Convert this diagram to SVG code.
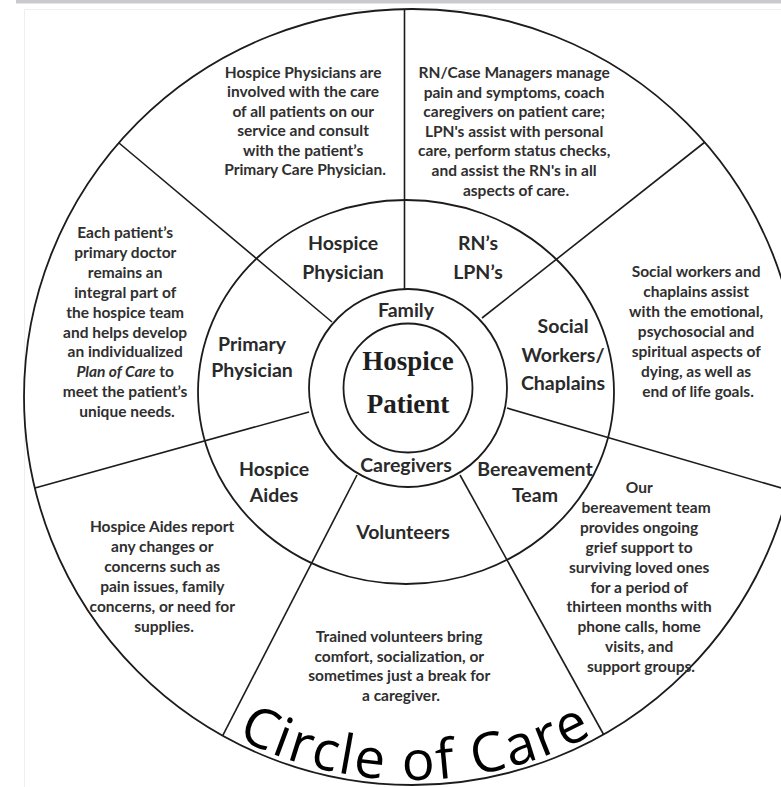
<svg xmlns="http://www.w3.org/2000/svg" width="781" height="787" viewBox="0 0 781 787">
  <style>
    .ring { fill: none; stroke: #1c1c1c; stroke-width: 1.8; }
    .spoke { stroke: #1c1c1c; stroke-width: 1.6; fill: none; }
    .desc { font-family: Lato, "Liberation Sans", sans-serif; font-weight: bold; font-size: 15.5px; fill: #2f2f2f; text-anchor: middle; }
    .lab { font-family: Lato, "Liberation Sans", sans-serif; font-weight: bold; font-size: 19.5px; fill: #2a2a2a; text-anchor: middle; }
    .core { font-family: "Liberation Serif", "Times New Roman", serif; font-weight: bold; font-size: 27px; fill: #1e1e1e; text-anchor: middle; }
    .title { font-family: "Open Sans", "Liberation Sans", sans-serif; font-size: 55px; fill: #000; letter-spacing: 2.2px; }
  </style>
  <defs>
    <path id="titleArc" d="M192.3,710.7 A383,383 0 0 0 631.7,710.7"/>
  </defs>
  <rect width="781" height="787" fill="#ffffff"/>
  <rect x="16" y="0" width="765" height="3.5" fill="#c9cace"/>
  <path d="M24.5,787 V9.5 H781" fill="none" stroke="#eeeeee" stroke-width="1"/>

  <g id="rings">
    <circle class="ring" cx="412" cy="397" r="388" stroke-width="2"/>
    <ellipse class="ring" cx="406" cy="392" rx="208" ry="192"/>
    <circle class="ring" cx="408" cy="388" r="99"/>
    <circle class="ring" cx="408" cy="388" r="64.5"/>
  </g>

  <g id="connectors">
    <line class="spoke" x1="404.5" y1="9" x2="404.5" y2="289"/>
    <line class="spoke" x1="119" y1="143" x2="332" y2="322"/>
    <line class="spoke" x1="705" y1="142" x2="482" y2="318"/>
    <line class="spoke" x1="507" y1="408" x2="788" y2="490"/>
    <line class="spoke" x1="309" y1="412" x2="35" y2="488"/>
    <line class="spoke" x1="357" y1="475" x2="222.7" y2="735.7"/>
    <line class="spoke" x1="460" y1="475" x2="603.6" y2="734.5"/>
  </g>

  <g id="hospice-patient">
    <text class="core"><tspan x="408" y="370">Hospice</tspan><tspan x="408" y="413">Patient</tspan></text>
  </g>
  <g id="family">
    <text class="lab" x="406" y="317">Family</text>
  </g>
  <g id="caregivers">
    <text class="lab" x="406" y="472">Caregivers</text>
  </g>

  <g id="hospice-physician">
    <text class="lab"><tspan x="343" y="250">Hospice</tspan><tspan x="343" y="279">Physician</tspan></text>
    <text class="desc">
      <tspan x="305" y="78">Hospice Physicians are</tspan>
      <tspan x="305" y="97.4">involved with the care</tspan>
      <tspan x="305" y="116.8">of all patients on our</tspan>
      <tspan x="305" y="136.2">service and consult</tspan>
      <tspan x="305" y="155.6">with the patient’s</tspan>
      <tspan x="305" y="175">Primary Care Physician.</tspan>
    </text>
  </g>

  <g id="rn-lpn">
    <text class="lab"><tspan x="478" y="250">RN’s</tspan><tspan x="478" y="279">LPN’s</tspan></text>
    <text class="desc">
      <tspan x="516" y="78">RN/Case Managers manage</tspan>
      <tspan x="516" y="97.6">pain and symptoms, coach</tspan>
      <tspan x="516" y="117.2">caregivers on patient care;</tspan>
      <tspan x="516" y="136.8">LPN's assist with personal</tspan>
      <tspan x="516" y="156.4">care, perform status checks,</tspan>
      <tspan x="516" y="176">and assist the RN's in all</tspan>
      <tspan x="516" y="195.6">aspects of care.</tspan>
    </text>
  </g>

  <g id="primary-physician">
    <text class="lab"><tspan x="252" y="351">Primary</tspan><tspan x="252" y="377">Physician</tspan></text>
    <text class="desc">
      <tspan x="127" y="238">Each patient’s</tspan>
      <tspan x="127" y="257.9">primary doctor</tspan>
      <tspan x="127" y="277.8">remains an</tspan>
      <tspan x="127" y="297.7">integral part of</tspan>
      <tspan x="127" y="317.6">the hospice team</tspan>
      <tspan x="127" y="337.5">and helps develop</tspan>
      <tspan x="127" y="357.4">an individualized</tspan>
      <tspan x="127" y="377.3"><tspan font-style="italic">Plan of Care</tspan> to</tspan>
      <tspan x="127" y="397.2">meet the patient’s</tspan>
      <tspan x="127" y="417.1">unique needs.</tspan>
    </text>
  </g>

  <g id="social-workers">
    <text class="lab"><tspan x="563" y="333">Social</tspan><tspan x="563" y="362">Workers/</tspan><tspan x="563" y="390">Chaplains</tspan></text>
    <text class="desc">
      <tspan x="698" y="277">Social workers and</tspan>
      <tspan x="698" y="297">chaplains assist</tspan>
      <tspan x="698" y="317">with the emotional,</tspan>
      <tspan x="698" y="337">psychosocial and</tspan>
      <tspan x="698" y="357">spiritual aspects of</tspan>
      <tspan x="698" y="377">dying, as well as</tspan>
      <tspan x="698" y="397">end of life goals.</tspan>
    </text>
  </g>

  <g id="hospice-aides">
    <text class="lab"><tspan x="274" y="476">Hospice</tspan><tspan x="274" y="502">Aides</tspan></text>
    <text class="desc">
      <tspan x="164" y="532">Hospice Aides report</tspan>
      <tspan x="164" y="552">any changes or</tspan>
      <tspan x="164" y="572">concerns such as</tspan>
      <tspan x="164" y="592">pain issues, family</tspan>
      <tspan x="164" y="612">concerns, or need for</tspan>
      <tspan x="164" y="632">supplies.</tspan>
    </text>
  </g>

  <g id="bereavement-team">
    <text class="lab"><tspan x="535" y="476">Bereavement</tspan><tspan x="535" y="502">Team</tspan></text>
    <text class="desc">
      <tspan x="641" y="493">Our</tspan>
      <tspan x="648" y="512.9">bereavement team</tspan>
      <tspan x="641" y="532.8">provides ongoing</tspan>
      <tspan x="641" y="552.7">grief support to</tspan>
      <tspan x="641" y="572.6">surviving loved ones</tspan>
      <tspan x="641" y="592.5">for a period of</tspan>
      <tspan x="641" y="612.4">thirteen months with</tspan>
      <tspan x="641" y="632.3">phone calls, home</tspan>
      <tspan x="641" y="652.2">visits, and</tspan>
      <tspan x="641" y="672.1">support groups.</tspan>
    </text>
  </g>

  <g id="volunteers">
    <text class="lab" x="403" y="539">Volunteers</text>
    <text class="desc">
      <tspan x="401" y="642">Trained volunteers bring</tspan>
      <tspan x="401" y="661.7">comfort, socialization, or</tspan>
      <tspan x="401" y="681.4">sometimes just a break for</tspan>
      <tspan x="401" y="701.1">a caregiver.</tspan>
    </text>
  </g>

  <g id="title">
    <text class="title"><textPath href="#titleArc" startOffset="238" text-anchor="middle">Circle of Care</textPath></text>
  </g>
</svg>
